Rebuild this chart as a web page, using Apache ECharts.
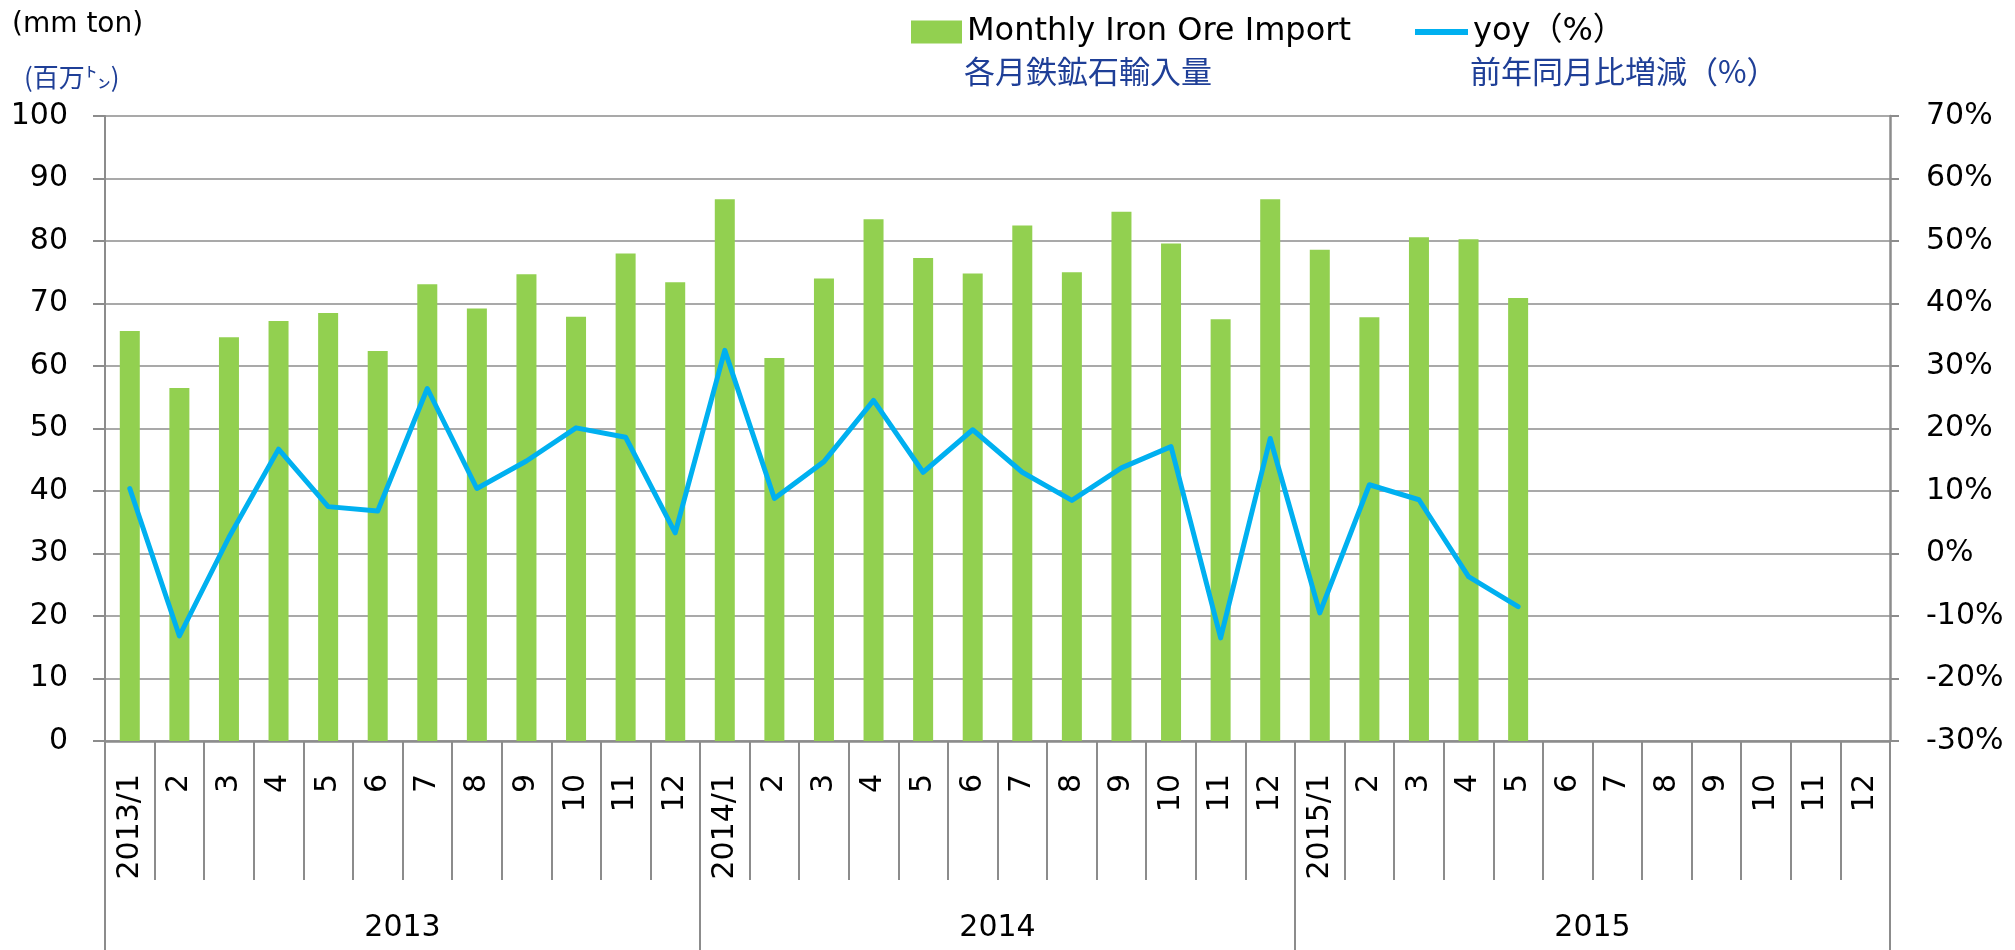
<!DOCTYPE html>
<html>
<head>
<meta charset="utf-8">
<script src="https://cdn.jsdelivr.net/npm/echarts@6/dist/echarts.min.js"></script>
<style>
  html, body { margin: 0; padding: 0; background: #fff; }
  #main { width: 2015px; height: 950px; }
</style>
</head>
<body>
<div id="main"></div>
<script>
// 横軸（月）
var months = ['2013/1', '2', '3', '4', '5', '6', '7', '8', '9', '10', '11', '12',
              '2014/1', '2', '3', '4', '5', '6', '7', '8', '9', '10', '11', '12',
              '2015/1', '2', '3', '4', '5', '6', '7', '8', '9', '10', '11', '12'];
var years = ['2013', '2014', '2015'];
// 各月鉄鉱石輸入量（百万トン）
var imports = [65.6, 56.5, 64.6, 67.2, 68.5, 62.4, 73.1, 69.2, 74.7, 67.9, 78.0, 73.4,
               86.7, 61.3, 74.0, 83.5, 77.3, 74.8, 82.5, 75.0, 84.7, 79.6, 67.5, 86.7,
               78.6, 67.8, 80.6, 80.3, 70.9];
// 前年同月比増減（%）
var yoy = [10.4, -13.2, 2.6, 16.7, 7.5, 6.8, 26.4, 10.4, 14.8, 20.1, 18.6, 3.3,
           32.5, 8.8, 14.7, 24.5, 13.0, 19.8, 13.0, 8.5, 13.7, 17.1, -13.5, 18.4,
           -9.5, 11.0, 8.6, -3.7, -8.5];

var gray = '#8c8c8c';
var blue = '#1f3f97';
var font = 'DejaVu Sans';

var myChart = echarts.init(document.getElementById('main'));

var option = {
    animation: false,
    backgroundColor: '#fff',
    textStyle: { fontFamily: font },
    grid: { left: 105, right: 125, top: 116, bottom: 209 },
    legend: [
        {
            data: [{ name: 'Monthly Iron Ore Import', icon: 'rect' }],
            left: 906, top: 11,
            itemWidth: 51, itemHeight: 23,
            selectedMode: false,
            textStyle: { fontSize: 32, color: '#000', fontFamily: font }
        },
        {
            data: [{ name: 'yoy（%）', icon: 'rect' }],
            left: 1410, top: 11,
            itemWidth: 53, itemHeight: 6,
            selectedMode: false,
            textStyle: { fontSize: 32, color: '#000', fontFamily: font + ', Noto Sans CJK JP' }
        }
    ],
    graphic: [
        { type: 'text', left: 12, top: 11, style: { text: '(mm ton)', fontSize: 28, fontFamily: font, fill: '#000' } },
        { type: 'text', left: 24, top: 64, style: { text: '(百万㌧)', fontSize: 26, fontFamily: 'Noto Sans CJK JP', fill: blue } },
        { type: 'text', left: 964, top: 56, style: { text: '各月鉄鉱石輸入量', fontSize: 31, fontFamily: 'Noto Sans CJK JP', fill: blue } },
        { type: 'text', left: 1470, top: 56, style: { text: '前年同月比増減（%）', fontSize: 31, fontFamily: 'Noto Sans CJK JP', fill: blue } }
    ],
    xAxis: [
        {
            type: 'category',
            data: months,
            position: 'bottom',
            axisLine: { show: true, onZero: false, lineStyle: { color: gray, width: 2.5 } },
            axisTick: { show: true, interval: 0, length: 139, lineStyle: { color: gray, width: 2 } },
            axisLabel: { interval: 0, rotate: 90, margin: 33, fontSize: 30, color: '#000', fontFamily: font }
        },
        {
            type: 'category',
            data: years,
            position: 'bottom',
            offset: 0,
            axisLine: { show: false, onZero: false },
            axisTick: { show: true, interval: 0, length: 209, lineStyle: { color: gray, width: 2 } },
            axisLabel: { interval: 0, margin: 172, fontSize: 30, color: '#000', fontFamily: font }
        }
    ],
    yAxis: [
        {
            type: 'value',
            min: 0, max: 100, interval: 10,
            axisLine: { show: true, onZero: false, lineStyle: { color: gray, width: 2 } },
            axisTick: { show: true, length: 12, lineStyle: { color: gray, width: 2 } },
            splitLine: { lineStyle: { color: gray, width: 1.6 } },
            axisLabel: { margin: 37, fontSize: 30, color: '#000', fontFamily: font }
        },
        {
            type: 'value',
            position: 'right',
            min: -30, max: 70, interval: 10,
            axisLine: { show: true, onZero: false, lineStyle: { color: gray, width: 2.5 } },
            axisTick: { show: true, length: 9, lineStyle: { color: gray, width: 2 } },
            splitLine: { show: false },
            axisLabel: { margin: 36, fontSize: 30, color: '#000', fontFamily: font, formatter: '{value}%' }
        }
    ],
    series: [
        {
            name: 'Monthly Iron Ore Import',
            type: 'bar',
            xAxisIndex: 0,
            yAxisIndex: 0,
            barWidth: 20,
            itemStyle: { color: '#92d050' },
            data: imports
        },
        {
            name: 'yoy（%）',
            type: 'line',
            xAxisIndex: 0,
            yAxisIndex: 1,
            symbol: 'none',
            itemStyle: { color: '#00b0f0' },
            lineStyle: { color: '#00b0f0', width: 5, cap: 'round', join: 'round' },
            data: yoy
        }
    ]
};
myChart.setOption(option);
</script>
</body>
</html>
